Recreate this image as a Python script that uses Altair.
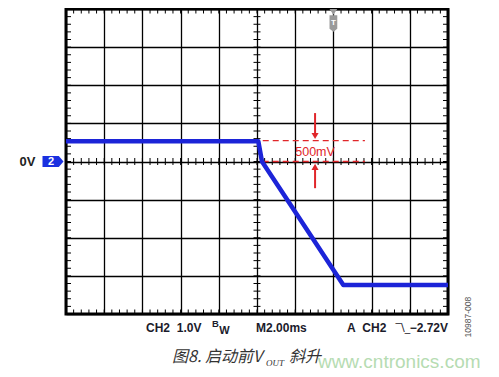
import altair as alt
import pandas as pd

# ---- trace (time in ms, voltage in V) ----
time_ms = [0.0, 10.07, 10.26, 11.47, 14.52, 20.0]
volts = [0.53, 0.53, 0.0, -0.92, -3.24, -3.24]

# ---- graticule ----
x_major = [0, 2, 4, 6, 8, 10, 12, 14, 16, 18, 20]
y_major = [-4, -3, -2, -1, 0, 1, 2, 3, 4]
x_minor = [round(i * 0.4, 2) for i in range(51)]
y_minor = [round(-4 + i * 0.2, 2) for i in range(41)]

# ---- 500 mV annotation ----
ann_x = [10.3, 15.65]
ann_levels = [0.55, 0.0]
arrow_x = 13.04
arrow_shafts = [(1.27, 0.72), (-0.70, -0.22)]
arrow_heads = [0.67, -0.14]
ann_label = "500mV"
ann_label_y = 0.25

# ---- markers ----
ch_marker_x = -0.68
ch_marker_text_x = -0.78
zero_label_x = -2.02
trig_x = 14.0
trig_y = 3.70

# ---- status texts ----
NB = "\u00a0"
status_texts = [f"CH2{NB}{NB}1.0V", "M2.00ms", f"A{NB}{NB}CH2"]
status_x = [4.19, 9.95, 14.71]
status_y = -4.37

xs = alt.Scale(domain=[0, 20], nice=False, zero=False)
ys = alt.Scale(domain=[-4, 4], nice=False, zero=False)
xa = alt.Axis(values=x_major, title=None, labels=False, ticks=False, domain=False,
              grid=True, gridColor="black", gridWidth=1.3, gridOpacity=1)
ya = alt.Axis(values=y_major, title=None, labels=False, ticks=False, domain=False,
              grid=True, gridColor="black", gridWidth=1.3, gridOpacity=1)

FONT = "Liberation Sans"
TXT = "#1b1b2b"


def X(f):
    return alt.X(f, type="quantitative", scale=xs, axis=xa)


def Y(f):
    return alt.Y(f, type="quantitative", scale=ys, axis=ya)


def XD(v):
    return alt.X(datum=v, type="quantitative", scale=xs, axis=xa)


def YD(v):
    return alt.Y(datum=v, type="quantitative", scale=ys, axis=ya)


def label(text, x, y, **kw):
    df = pd.DataFrame({"x": [x], "y": [y], "s": [text]})
    return alt.Chart(df).mark_text(**kw).encode(x=X("x"), y=Y("y"), text="s:N")


trace = alt.Chart(pd.DataFrame({"t": time_ms, "v": volts})).mark_line(
    color="#1c24d8", strokeWidth=4.5, strokeJoin="round"
).encode(x=X("t"), y=Y("v"))

mx = pd.DataFrame({"t": x_minor})
my = pd.DataFrame({"v": y_minor})
tick_layers = []
# small vertical ticks along top border, bottom border and the centre horizontal line
for yv, o1, o2 in [(4, 0, 4.5), (-4, -4.5, 0), (0, -3.5, 3.5)]:
    tick_layers.append(
        alt.Chart(mx).mark_rule(color="black", strokeWidth=1, yOffset=o1, y2Offset=o2)
        .encode(x=X("t"), y=YD(yv), y2=alt.Y2(datum=yv))
    )
# small horizontal ticks along left border, right border and the centre vertical line
for xv, o1, o2 in [(0, 0, 5), (20, -5, 0), (10, -3.5, 3.5)]:
    tick_layers.append(
        alt.Chart(my).mark_rule(color="black", strokeWidth=1, xOffset=o1, x2Offset=o2)
        .encode(y=Y("v"), x=XD(xv), x2=alt.X2(datum=xv))
    )

dash_df = pd.DataFrame({"x1": [ann_x[0]] * 2, "x2": [ann_x[1]] * 2, "v": ann_levels})
dashes = alt.Chart(dash_df).mark_rule(color="#e0262a", strokeWidth=1.3, strokeDash=[6, 4]).encode(
    x=X("x1"), x2="x2:Q", y=Y("v")
)

shaft_df = pd.DataFrame({
    "x": [arrow_x] * 2,
    "y1": [a for a, b in arrow_shafts],
    "y2": [b for a, b in arrow_shafts],
})
shafts = alt.Chart(shaft_df).mark_rule(color="#e0262a", strokeWidth=2).encode(x=X("x"), y=Y("y1"), y2="y2:Q")
head_dn = alt.Chart(pd.DataFrame({"x": [arrow_x], "y": [arrow_heads[0]]})).mark_point(
    shape="triangle-down", filled=True, size=50, color="#e0262a", opacity=1
).encode(x=X("x"), y=Y("y"))
head_up = alt.Chart(pd.DataFrame({"x": [arrow_x], "y": [arrow_heads[1]]})).mark_point(
    shape="triangle-up", filled=True, size=50, color="#e0262a", opacity=1
).encode(x=X("x"), y=Y("y"))

ann_text = label(ann_label, arrow_x, ann_label_y, font=FONT, fontSize=12.5, color="#e0262a",
                 align="center", baseline="middle")

ch_path = "M-1,-0.52L0.55,-0.52L1,0L0.55,0.52L-1,0.52Z"
ch_marker = alt.Chart(pd.DataFrame({"x": [ch_marker_x], "y": [0.0]})).mark_point(
    shape=ch_path, size=441, filled=True, color="#1a30e0", opacity=1, clip=False
).encode(x=X("x"), y=Y("y"))
ch_text = label("2", ch_marker_text_x, 0.0, font=FONT, fontSize=11, fontWeight="bold", color="white",
                align="center", baseline="middle")
zero_text = label("0V", zero_label_x, 0.0, font=FONT, fontSize=13, fontWeight="bold", color="#222222",
                  align="center", baseline="middle")

trig_path = ("M-0.34,-1L0.34,-1L0,-0.5Z"
             "M-0.34,-0.45L0.34,-0.45L0.34,0.72L0,1L-0.34,0.72Z")
trig = alt.Chart(pd.DataFrame({"x": [trig_x], "y": [trig_y]})).mark_point(
    shape=trig_path, size=520, filled=True, color="#9a9a9a", opacity=1
).encode(x=X("x"), y=Y("y"))
trig_text = label("T", trig_x, trig_y - 0.07, font=FONT, fontSize=8, fontWeight="bold", color="white",
                  align="center", baseline="middle")

texts = []
for s, xv in zip(status_texts, status_x):
    texts.append(label(s, xv, status_y, font=FONT, fontSize=12, fontWeight="bold", color=TXT,
                       align="left", baseline="middle"))
texts.append(label("B", 7.64, -4.27, font=FONT, fontSize=9.5, fontWeight="bold", color=TXT,
                   align="left", baseline="middle"))
texts.append(label("W", 8.03, -4.45, font=FONT, fontSize=11, fontWeight="bold", color=TXT,
                   align="left", baseline="middle"))
texts.append(label("\u203e\\_", 17.64, status_y, font="DejaVu Sans", fontSize=11, color=TXT,
                   align="center", baseline="middle"))
texts.append(label("\u22122.72V", 20.0, status_y, font=FONT, fontSize=12, fontWeight="bold", color=TXT,
                   align="right", baseline="middle"))
texts.append(label("10987-008", 21.05, -4.08, font=FONT, fontSize=8.5, color="#555555", angle=270,
                   align="center", baseline="middle"))

CJK = "Noto Sans CJK SC"
texts.append(label("图8. 启动前V", 5.55, -5.13, font=CJK, fontSize=16, fontStyle="italic", color="#333333",
                   align="left", baseline="middle"))
texts.append(label("OUT", 10.47, -5.28, font="Liberation Serif", fontSize=9, fontStyle="italic",
                   color="#333333", align="left", baseline="middle"))
texts.append(label("斜升", 11.68, -5.13, font=CJK, fontSize=16, fontStyle="italic", color="#333333",
                   align="left", baseline="middle"))
texts.append(label("www.cntronics.com", 13.19, -5.27, font=FONT, fontSize=19, color="#b6dcb2",
                   align="left", baseline="middle"))

chart = alt.layer(
    *tick_layers, dashes, shafts, head_dn, head_up, ann_text, trace,
    ch_marker, ch_text, zero_text, trig, trig_text, *texts
).properties(
    width=382, height=305,
    background="white",
    autosize=alt.AutoSizeParams(type="none"),
    padding={"left": 58, "top": 1, "right": 35, "bottom": 60},
).configure_view(
    stroke="black", strokeWidth=3, fill="white"
)

chart.save("out.html", embed_options={"renderer": "svg", "actions": False})
